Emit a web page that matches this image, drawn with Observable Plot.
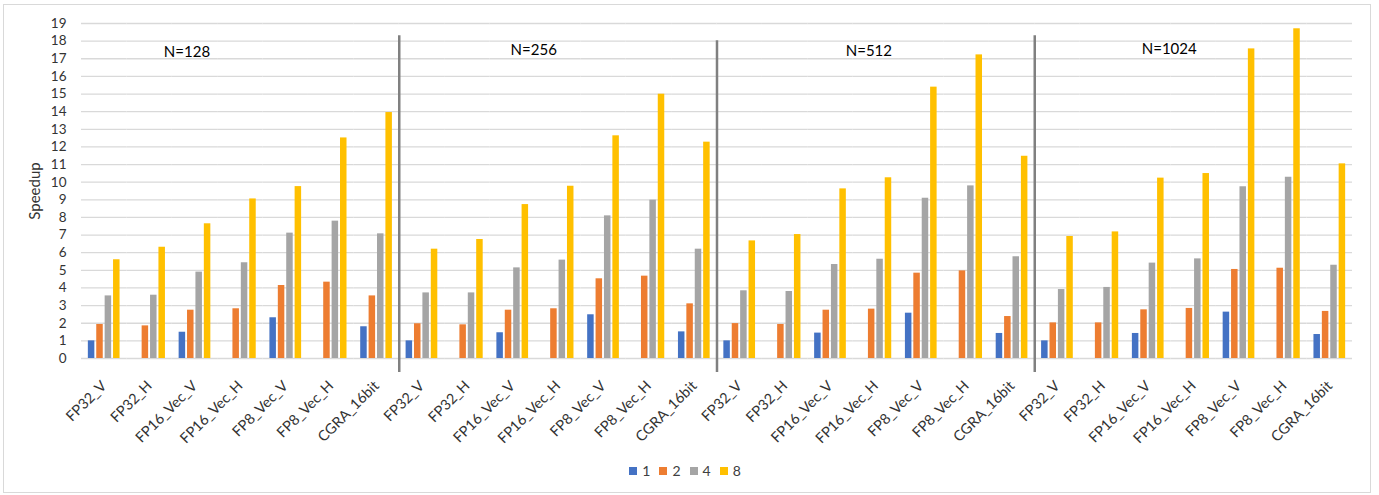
<!DOCTYPE html>
<html><head><meta charset="utf-8">
<script src="https://cdn.jsdelivr.net/npm/d3@7"></script>
<script src="https://cdn.jsdelivr.net/npm/@observablehq/plot@0.6"></script>
<style>
body{margin:0;background:#fff;font-family:Lato,"Open Sans",sans-serif;}
#wrap{position:relative;width:1379px;height:495px;overflow:hidden;}
#border{position:absolute;left:3px;top:4px;width:1368px;height:489px;border:1px solid #d9d9d9;box-sizing:border-box;}
#chart{position:absolute;left:0;top:0;}
#legend{position:absolute;left:0;top:454px;width:1379px;display:flex;justify-content:center;}
.lg-swatch{margin-right:9px !important;}
.lg-swatch > svg{margin-right:5px !important;}
</style></head><body>
<div id="wrap"><div id="border"></div><div id="chart"></div><div id="legend"></div></div>
<script>
// ---- data ----
const categories = ["FP32_V","FP32_H","FP16_Vec_V","FP16_Vec_H","FP8_Vec_V","FP8_Vec_H","CGRA_16bit"];
const sizes = ["128","256","512","1024"];
const threads = ["1","2","4","8"];
const groupLabels = ["N=128","N=256","N=512","N=1024"];
const yTicks = [0,1,2,3,4,5,6,7,8,9,10,11,12,13,14,15,16,17,18,19];

// speedup per thread count, 7 categories x 4 sizes (N=128, 256, 512, 1024)
const speedup1 = [
  1.00, null, 1.49, null, 2.31, null, 1.80,
  1.00, null, 1.46, null, 2.48, null, 1.51,
  1.00, null, 1.44, null, 2.57, null, 1.42,
  1.00, null, 1.42, null, 2.63, null, 1.36
];
const speedup2 = [
  1.93, 1.85, 2.74, 2.82, 4.14, 4.33, 3.55,
  1.97, 1.91, 2.74, 2.82, 4.52, 4.67, 3.10,
  1.98, 1.93, 2.74, 2.80, 4.84, 4.97, 2.38,
  2.02, 2.02, 2.76, 2.84, 5.05, 5.12, 2.67
];
const speedup4 = [
  3.55, 3.59, 4.90, 5.43, 7.11, 7.79, 7.07,
  3.72, 3.72, 5.14, 5.58, 8.09, 8.98, 6.20,
  3.84, 3.80, 5.33, 5.63, 9.09, 9.79, 5.77,
  3.91, 4.03, 5.41, 5.65, 9.74, 10.28, 5.29
];
const speedup8 = [
  5.60, 6.31, 7.64, 9.05, 9.75, 12.51, 13.95,
  6.20, 6.75, 8.73, 9.77, 12.63, 14.99, 12.27,
  6.67, 7.03, 9.62, 10.25, 15.39, 17.22, 11.47,
  6.92, 7.18, 10.23, 10.49, 17.56, 18.70, 11.04
];
// divider lines between N groups (top / bottom in speedup units)
const dividerTop = [18.3, 18.02, 18.3];
const dividerBottom = -0.8;
// group label heights
const groupLabelY = [17.4, 17.5, 17.45, 17.55];

const colors = ["#4472C4","#ED7D31","#A5A5A5","#FFC000"];

// ---- layout ----
const W = 1379, H = 445, mL = 81, mR = 27, mT = 23, mB = 87;
const facetW = (W - mL - mR) / (categories.length * sizes.length);

const keys = sizes.flatMap(n => categories.map(c => n + "|" + c));
const rows = [];
[speedup1, speedup2, speedup4, speedup8].forEach((arr, s) =>
  arr.forEach((v, i) => { if (v != null) rows.push({key: keys[i], thread: threads[s], value: v}); }));

const dividers = dividerTop.map((t, g) => ({key: keys[(g + 1) * categories.length - 1], top: t, bottom: dividerBottom}));

// label anchor: facet index + pixel nudge
const labelAnchors = [[2, -8], [9, 21], [17, -7], [23, 21]];
const labelMarks = groupLabels.map((lab, g) =>
  Plot.text([{key: keys[labelAnchors[g][0]], y: groupLabelY[g], label: lab}],
    {fx: "key", y: "y", text: "label", dx: labelAnchors[g][1], fontSize: 15, fill: "#000", textAnchor: "middle"}));

const chart = Plot.plot({
  width: W, height: H, marginLeft: mL, marginRight: mR, marginTop: mT, marginBottom: mB,
  style: {fontFamily: "Lato, 'Open Sans', sans-serif", fontSize: "13px", color: "#333", background: "transparent"},
  fx: {domain: keys, paddingInner: 0, paddingOuter: 0, round: false},
  x: {domain: threads, paddingInner: 0.226, paddingOuter: 0.815, round: false, axis: null},
  y: {domain: [0, 19], axis: null},
  color: {domain: threads, range: colors},
  marks: [
    Plot.gridY(yTicks, {stroke: "#d9d9d9", strokeOpacity: 1, strokeWidth: 1.3}),
    Plot.axisY(yTicks, {tickSize: 0, tickPadding: 15, label: null, fontSize: 13.5}),
    Plot.axisY([], {tickSize: 0, label: "Speedup", labelAnchor: "center", labelOffset: 52, labelArrow: "none", fontSize: 15}),
    Plot.axisFx({anchor: "bottom", tickSize: 0, tickPadding: 25, tickRotate: -45, tickFormat: k => k.split("|")[1], label: null, fontSize: 14.5}),
    Plot.barY(rows, {fx: "key", x: "thread", y: "value", fill: "thread"}),
    Plot.ruleX(dividers, {fx: "key", x: null, y1: "bottom", y2: "top", stroke: "#808080", strokeWidth: 2.5, dx: facetW / 2}),
    ...labelMarks
  ]
});
document.getElementById("chart").append(chart);

const leg = Plot.legend({
  color: {domain: threads, range: colors},
  legend: "swatches", swatchSize: 8, className: "lg",
  style: {fontFamily: "Lato, 'Open Sans', sans-serif", fontSize: "14px", color: "#404040"}
});
document.getElementById("legend").append(leg);
</script>
</body></html>
